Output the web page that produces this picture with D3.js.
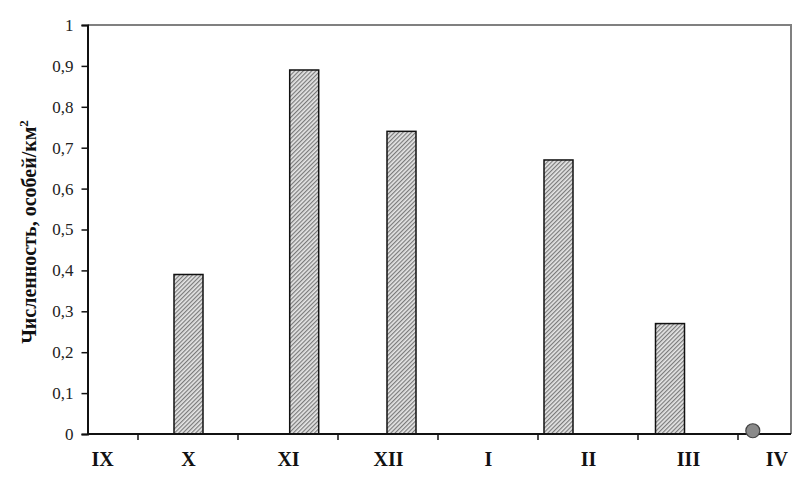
<!DOCTYPE html>
<html><head><meta charset="utf-8">
<script src="https://cdn.jsdelivr.net/npm/d3@7"></script>
<style>body{margin:0;background:#fff}svg{display:block}</style>
</head><body>
<script>
// Data
const months = ["IX","X","XI","XII","I","II","III","IV"];
const barPositions = [1.01, 2.167, 3.14, 4.71, 5.825]; // position in month units
const barValues = [0.39, 0.89, 0.74, 0.67, 0.27];
const pointPosition = [6.653];
const pointValue = [0.008];
const yTicks = [0,0.1,0.2,0.3,0.4,0.5,0.6,0.7,0.8,0.9,1];
const yLabel = "Численность, особей/км";

(function(){
const W = 807, H = 484;
const svg = d3.select("body").append("svg").attr("width", W).attr("height", H);
const mL = 87.5, mR = 791, mT = 25, mB = 434;
const serif = "'Liberation Serif', 'Times New Roman', serif";

const x = d3.scaleLinear().domain([0, 7.035]).range([mL, mR]);
const y = d3.scaleLinear().domain([0, 1]).range([mB, mT]);
const bw = x(0.29) - x(0);

const defs = svg.append("defs");
const pat = defs.append("pattern").attr("id","hatch").attr("patternUnits","userSpaceOnUse")
  .attr("width",3).attr("height",3).attr("patternTransform","rotate(45)");
pat.append("rect").attr("width",3).attr("height",3).attr("fill","#e6e6e6");
pat.append("rect").attr("width",1.2).attr("height",3).attr("fill","#7a7a7a");

// frame top/right (gray)
svg.append("path").attr("d", `M${mL},${mT}H${mR}V${mB}`)
  .attr("fill","none").attr("stroke","#808080").attr("stroke-width",2);

// bars
svg.selectAll("rect.bar").data(barValues).join("rect").attr("class","bar")
  .attr("x",(d,i)=>x(barPositions[i]) - bw/2)
  .attr("y",d=>y(d))
  .attr("width",bw)
  .attr("height",d=>y(0)-y(d))
  .attr("fill","url(#hatch)").attr("stroke","#111").attr("stroke-width",1.5);

// y axis
const ya = svg.append("g").attr("transform",`translate(${mL},0)`)
  .call(d3.axisLeft(y).tickValues(yTicks).tickSize(6).tickPadding(8)
    .tickFormat(d=>d3.format(".1~f")(d).replace(".",",")));
ya.select(".domain").attr("stroke","#111").attr("stroke-width",2);
ya.selectAll(".tick line").attr("stroke","#111").attr("stroke-width",1.5);
ya.selectAll(".tick text").attr("font-family",serif).attr("font-size",17).attr("fill","#222");

// x axis
const tickPos = d3.range(0.5, 7, 1);
const xa = svg.append("g").attr("transform",`translate(0,${mB})`)
  .call(d3.axisBottom(x).tickValues(tickPos).tickSize(6).tickFormat(""));
xa.select(".domain").attr("d",`M${mL},0H${mR}`).attr("stroke","#111").attr("stroke-width",2);
xa.selectAll(".tick line").attr("stroke","#111").attr("stroke-width",1.5);

// month labels
svg.selectAll("text.month").data(months).join("text").attr("class","month")
  .attr("x",(d,i)=> i===0 ? x(i)+4 : i===months.length-1 ? x(i)+0.5 : x(i)+1)
  .attr("y",466)
  .attr("text-anchor",(d,i)=> i===0 ? "start" : i===months.length-1 ? "end" : "middle")
  .attr("font-family",serif).attr("font-weight","bold").attr("font-size",20)
  .attr("fill","#111").text(d=>d);

// point
svg.selectAll("circle.pt").data(pointValue).join("circle").attr("class","pt")
  .attr("cx",(d,i)=>x(pointPosition[i])).attr("cy",d=>y(d)).attr("r",7)
  .attr("fill","#8a8a8a").attr("stroke","#444").attr("stroke-width",1.2);

// y label
const yl = svg.append("text").attr("transform",`translate(36,232) rotate(-90)`)
  .attr("text-anchor","middle").attr("font-family",serif)
  .attr("font-weight","bold").attr("font-size",20).attr("fill","#111");
yl.append("tspan").text(yLabel);
yl.append("tspan").attr("dy",-8).attr("font-size",13).text("2");
})();
</script>
</body></html>
